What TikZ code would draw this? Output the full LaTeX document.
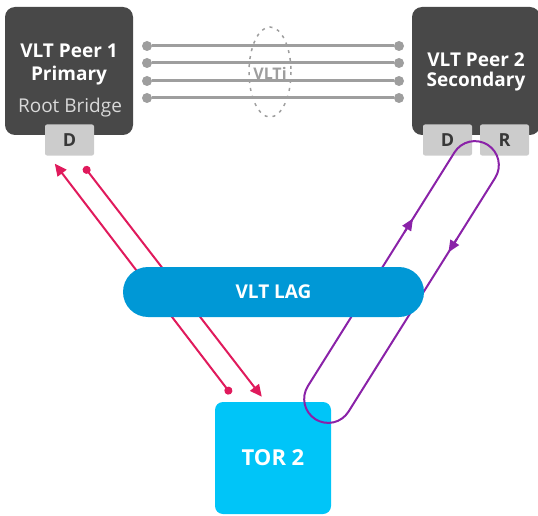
\documentclass[tikz,border=0pt]{standalone}
\usepackage{fontspec}
\setmainfont{Open Sans}
\usetikzlibrary{arrows.meta,positioning,calc}
\definecolor{PeerGrey}{RGB}{72,72,72}
\definecolor{PortGrey}{RGB}{204,204,204}
\definecolor{LinkGrey}{RGB}{158,158,158}
\definecolor{LagBlue}{RGB}{0,152,214}
\definecolor{TorCyan}{RGB}{0,197,248}
\definecolor{PathRed}{RGB}{224,26,92}
\definecolor{LoopPurple}{RGB}{138,34,168}
\tikzset{
  peerbox/.style={fill=PeerGrey, rounded corners=10pt, minimum width=128pt, minimum height=128pt, inner sep=0pt},
  peertext/.style={text=white, align=center, font=\bfseries\fontsize{19}{20}\selectfont},
  portbox/.style={fill=PortGrey, rounded corners=2pt, minimum width=49pt, minimum height=31pt, inner sep=0pt, text=black!78, font=\bfseries\fontsize{18}{20}\selectfont},
  vltdot/.style={circle, fill=LinkGrey, inner sep=0pt, minimum size=10pt},
  vltline/.style={LinkGrey, line width=3pt},
  redpath/.style={PathRed, line width=2pt, {Circle[length=8pt]}-{Triangle[length=12pt,width=11pt]}},
  looppath/.style={LoopPurple, line width=2pt},
}

\begin{document}
\begin{tikzpicture}[x=1pt, y=-1pt, >=Latex]
      \useasboundingbox (0,0) rectangle (538,516);

      % VLTi links between the peers
      \foreach \y [count=\i] in {46,63,81,98} {
        \node[vltdot] (la\i) at (147,\y) {};
        \node[vltdot] (lb\i) at (399,\y) {};
        \draw[vltline] (la\i) -- (lb\i);
      }
      \draw[LinkGrey, line width=1.5pt, dash pattern=on 3pt off 5pt] (270,72) ellipse [x radius=21, y radius=45];
      \node[text=LinkGrey, font=\bfseries\fontsize{16}{18}\selectfont] (vlti) at (270,73) {VLTi};

      % peers
      \node[peerbox] (p1) at (69,71) {};
      \node[peertext, font=\bfseries\fontsize{19}{23}\selectfont] (p1t) at (69,65) {VLT Peer 1\\Primary};
      \node[text=black!15, font=\fontsize{19}{20}\selectfont] (p1rb) at (70,108) {Root Bridge};
      \node[peerbox] (p2) at (476,71) {};
      \node[peertext] (p2t) at (476,72) {VLT Peer 2\\Secondary};

      \node[portbox] (d1) at (69.5,140) {D};
      \node[portbox] (d2) at (447.5,140) {D};
      \node[portbox] (r2) at (504.5,140) {R};

      % switch
      \node[fill=TorCyan, rounded corners=8pt, minimum width=116pt, minimum height=112pt,
            text=white, font=\bfseries\fontsize{22}{24}\selectfont] (tor) at (273,458) {TOR 2};

      % forwarding through peer 1
      \draw[redpath] ([xshift=16pt,yshift=8pt]tor.north west) -- ([xshift=10pt,yshift=-8pt]d1.south west);
      \draw[redpath] ([xshift=-10pt,yshift=-11pt]d1.south east) -- ([xshift=47pt,yshift=5pt]tor.north west);

      % loop through peer 2
      \begin{scope}[shift={(401.5,282)}, rotate=57.9]
        \draw[looppath, rounded corners=24pt] (-162,-24) rectangle (162,24);
        \draw[looppath, -{Triangle[length=12pt,width=10pt]}] (44,-24) -- (60,-24);
        \draw[looppath, -{Triangle[length=12pt,width=10pt]}] (66,24) -- (50,24);
      \end{scope}

      \node[fill=LagBlue, rounded corners=25pt, minimum width=301pt, minimum height=50pt,
            text=white, font=\bfseries\fontsize{19}{20}\selectfont] (lag) at (273.5,292) {VLT LAG};
    \end{tikzpicture}
\end{document}
